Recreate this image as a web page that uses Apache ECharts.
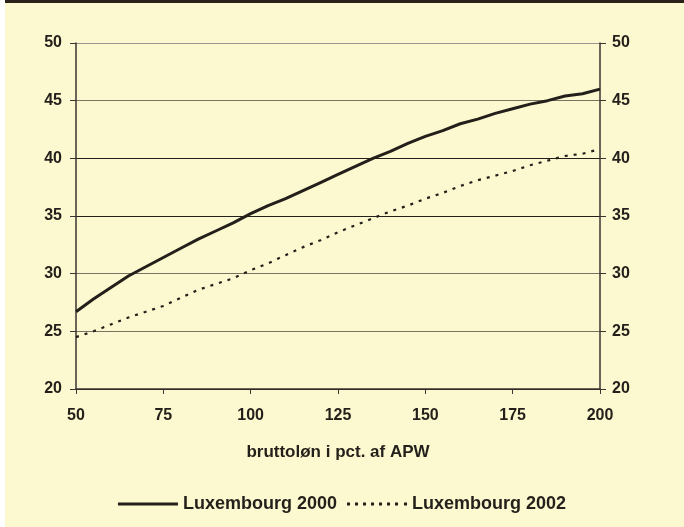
<!DOCTYPE html>
<html>
<head>
<meta charset="utf-8">
<script src="https://cdn.jsdelivr.net/npm/echarts@6/dist/echarts.min.js"></script>
<style>
  html, body { margin: 0; padding: 0; background: #ffffff; }
  #chart { width: 684px; height: 527px; }
</style>
</head>
<body>
<div id="chart"></div>
<script>
// Gross wage as percent of APW (x) and the tax rate for each year (y)
const wagePct = [50, 55, 60, 65, 70, 75, 80, 85, 90, 95, 100, 105, 110, 115, 120, 125,
                 130, 135, 140, 145, 150, 155, 160, 165, 170, 175, 180, 185, 190, 195, 200];
const lux2000 = [26.7, 27.8, 28.8, 29.8, 30.6, 31.4, 32.2, 33.0, 33.7, 34.4, 35.2, 35.9,
                 36.5, 37.2, 37.9, 38.6, 39.3, 40.0, 40.6, 41.3, 41.9, 42.4, 43.0, 43.4,
                 43.9, 44.3, 44.7, 45.0, 45.4, 45.6, 46.0];
const lux2002 = [24.5, 25.0, 25.6, 26.2, 26.7, 27.2, 27.9, 28.6, 29.1, 29.6, 30.3, 30.9,
                 31.6, 32.3, 32.9, 33.6, 34.2, 34.8, 35.4, 35.9, 36.5, 37.0, 37.6, 38.1,
                 38.5, 38.9, 39.4, 39.8, 40.2, 40.4, 40.8];
const seriesNames = ['Luxembourg 2000', 'Luxembourg 2002'];
const xAxisTitle = 'bruttoløn i pct. af APW';

const pairs = (ys) => wagePct.map((x, i) => [x, ys[i]]);

const ink = '#231f1a';
const labelFont = { fontFamily: 'Liberation Sans, Arial, sans-serif', fontWeight: 'bold' };

// legend keys: a solid bar and a row of short dashes
const solidKey = 'path://M0,0H60V3H0Z';
const dashKey = 'path://M0,0h3v3h-3z M8,0h3v3h-3z M16,0h3v3h-3z M24,0h3v3h-3z M32,0h3v3h-3z M40,0h3v3h-3z M48,0h3v3h-3z M57,0h3v3h-3z';

const chart = echarts.init(document.getElementById('chart'), null, { renderer: 'canvas' });
chart.setOption({
  backgroundColor: '#ffffff',
  animation: false,
  graphic: [
    { type: 'rect', left: 5, top: 0, shape: { width: 679, height: 527 }, style: { fill: '#fcf8cf' }, z: -10 },
    { type: 'rect', left: 5, top: 0, shape: { width: 679, height: 3 }, style: { fill: '#2a2118' }, z: 10 }
  ],
  grid: { left: 76, right: 84, top: 43, bottom: 138, containLabel: false },
  legend: {
    bottom: 9,
    left: 'center',
    itemWidth: 60,
    itemHeight: 3,
    itemGap: 10,
    symbolKeepAspect: false,
    textStyle: Object.assign({ fontSize: 18, color: ink }, labelFont),
    data: [
      { name: seriesNames[0], icon: solidKey, itemStyle: { color: ink } },
      { name: seriesNames[1], icon: dashKey, itemStyle: { color: ink } }
    ]
  },
  xAxis: {
    type: 'value',
    min: 50, max: 200, interval: 25,
    name: xAxisTitle,
    nameLocation: 'middle',
    nameGap: 55,
    nameTextStyle: Object.assign({ fontSize: 17, color: ink }, labelFont),
    axisLine: { show: true, lineStyle: { color: '#3a3530', width: 1.5 } },
    axisTick: { show: true, length: 5, inside: false, lineStyle: { color: '#3a3530' } },
    axisLabel: Object.assign({ fontSize: 16, color: ink, margin: 19 }, labelFont),
    splitLine: { show: false }
  },
  yAxis: [
    {
      type: 'value',
      min: 20, max: 50, interval: 5,
      position: 'left',
      axisLine: { show: true, lineStyle: { color: '#3a3530', width: 1.5 } },
      axisTick: { show: true, length: 6, lineStyle: { color: '#3a3530' } },
      axisLabel: Object.assign({ fontSize: 16, color: ink, margin: 14 }, labelFont),
      splitLine: {
        show: true,
        lineStyle: {
          color: ['#231f1a', '#7a7262', '#7a7262', '#231f1a', '#231f1a', '#7a7262', '#9a9690'],
          width: 1.2
        }
      }
    },
    {
      type: 'value',
      min: 20, max: 50, interval: 5,
      position: 'right',
      axisLine: { show: true, lineStyle: { color: '#3a3530', width: 1.5 } },
      axisTick: { show: true, length: 6, lineStyle: { color: '#3a3530' } },
      axisLabel: Object.assign({ fontSize: 16, color: ink, margin: 12 }, labelFont),
      splitLine: { show: false }
    }
  ],
  series: [
    {
      name: seriesNames[0],
      type: 'line',
      data: pairs(lux2000),
      symbol: 'none',
      smooth: false,
      lineStyle: { color: ink, width: 3 },
      itemStyle: { color: ink },
      z: 3
    },
    {
      name: seriesNames[1],
      type: 'line',
      data: pairs(lux2002),
      symbol: 'none',
      smooth: false,
      lineStyle: { color: ink, width: 2.2, type: [3, 6] },
      itemStyle: { color: ink },
      z: 3
    }
  ]
});
</script>
</body>
</html>
